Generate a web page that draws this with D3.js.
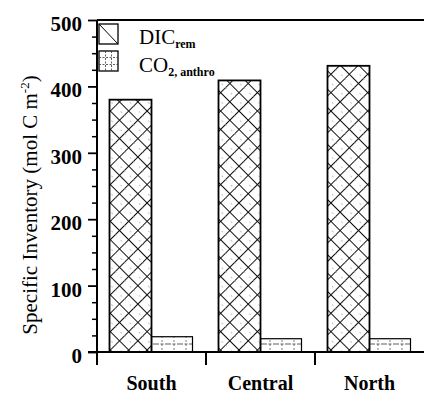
<!DOCTYPE html>
<html>
<head>
<meta charset="utf-8">
<script src="https://cdn.jsdelivr.net/npm/d3@7"></script>
<style>
  body { margin: 0; background: #fff; }
  svg { display: block; }
  text { font-family: "Liberation Serif", "Times New Roman", serif; fill: #000; }
</style>
</head>
<body>
<div id="chart"></div>
<script>
// values
const regions = ["South", "Central", "North"];
const dicRem = [380, 409, 431];
const co2Anthro = [23, 20, 20];
const majorTicks = [0, 100, 200, 300, 400, 500];
const minorTicks = [25, 50, 75, 125, 150, 175, 225, 250, 275, 325, 350, 375, 425, 450, 475];

const width = 424, height = 395;
const margin = { top: 20, right: 0, bottom: 43, left: 97 };
const barW = 42;

const svg = d3.select("#chart").append("svg")
  .attr("width", width)
  .attr("height", height);

const defs = svg.append("defs");

// cross hatch for DIC_rem, with a faint dashed line in between like the scan
const hs = 13;
const dicPat = defs.append("pattern")
  .attr("id", "dicHatch")
  .attr("patternUnits", "userSpaceOnUse")
  .attr("width", hs).attr("height", hs)
  .attr("patternTransform", "rotate(45)");
dicPat.append("line").attr("x1", 0).attr("y1", 0.5).attr("x2", hs).attr("y2", 0.5)
  .attr("stroke", "#111").attr("stroke-width", 1);
dicPat.append("line").attr("x1", 0.5).attr("y1", 0).attr("x2", 0.5).attr("y2", hs)
  .attr("stroke", "#111").attr("stroke-width", 1);
dicPat.append("line").attr("x1", 0).attr("y1", hs / 2).attr("x2", hs).attr("y2", hs / 2)
  .attr("stroke", "#999").attr("stroke-width", 0.6).attr("stroke-dasharray", "2,6");

// dashed grid for CO2_anthro
const co2Pat = defs.append("pattern")
  .attr("id", "co2Hatch")
  .attr("patternUnits", "userSpaceOnUse")
  .attr("width", 12).attr("height", 8)
  .attr("y", 4);
co2Pat.append("line").attr("x1", 0).attr("y1", 4).attr("x2", 12).attr("y2", 4)
  .attr("stroke", "#333").attr("stroke-width", 0.8).attr("stroke-dasharray", "3,1.5");
co2Pat.append("line").attr("x1", 6).attr("y1", 0).attr("x2", 6).attr("y2", 8)
  .attr("stroke", "#444").attr("stroke-width", 0.7).attr("stroke-dasharray", "2,2");

const x = d3.scaleBand()
  .domain(regions)
  .range([margin.left, width - margin.right]);

const y = d3.scaleLinear()
  .domain([0, 500])
  .range([height - margin.bottom, margin.top]);

const mid = d => x(d) + x.bandwidth() / 2;

// bars
svg.append("g").selectAll("rect")
  .data(regions)
  .join("rect")
  .attr("x", d => mid(d) - barW)
  .attr("y", (d, i) => y(dicRem[i]))
  .attr("width", barW)
  .attr("height", (d, i) => y(0) - y(dicRem[i]))
  .attr("fill", "url(#dicHatch)")
  .attr("stroke", "#000")
  .attr("stroke-width", 1.8);

svg.append("g").selectAll("rect")
  .data(regions)
  .join("rect")
  .attr("x", d => mid(d))
  .attr("y", (d, i) => y(co2Anthro[i]))
  .attr("width", barW - 1)
  .attr("height", (d, i) => y(0) - y(co2Anthro[i]))
  .attr("fill", "url(#co2Hatch)")
  .attr("stroke", "#000")
  .attr("stroke-width", 1.2);

// y axis: minor then major ticks
svg.append("g")
  .attr("transform", "translate(" + margin.left + ",0)")
  .call(d3.axisLeft(y).tickValues(minorTicks).tickSize(5).tickFormat(""))
  .call(g => g.select(".domain").remove())
  .call(g => g.selectAll("line").attr("stroke-width", 1.5));

svg.append("g")
  .attr("transform", "translate(" + margin.left + ",0)")
  .call(d3.axisLeft(y).tickValues(majorTicks).tickSize(9).tickPadding(6))
  .call(g => g.select(".domain").remove())
  .call(g => g.selectAll("line").attr("stroke-width", 1.8))
  .call(g => g.selectAll("text")
    .attr("dy", "0.5em")
    .style("font-family", "'Liberation Serif', serif")
    .style("font-size", "21px")
    .style("font-weight", "bold"));

// frame lines
svg.append("line")
  .attr("x1", margin.left).attr("x2", margin.left)
  .attr("y1", margin.top).attr("y2", y(0) + 13)
  .attr("stroke", "#000").attr("stroke-width", 2);
svg.append("line")
  .attr("x1", margin.left - 9).attr("x2", width)
  .attr("y1", y(0)).attr("y2", y(0))
  .attr("stroke", "#000").attr("stroke-width", 2);
svg.append("line")
  .attr("x1", margin.left).attr("x2", width)
  .attr("y1", y(500)).attr("y2", y(500))
  .attr("stroke", "#000").attr("stroke-width", 2);

// ticks between categories
svg.append("g").selectAll("line")
  .data(regions.slice(1))
  .join("line")
  .attr("x1", d => x(d)).attr("x2", d => x(d))
  .attr("y1", y(0)).attr("y2", y(0) + 13)
  .attr("stroke", "#000").attr("stroke-width", 2);

// category labels
svg.append("g").selectAll("text")
  .data(regions)
  .join("text")
  .attr("x", d => mid(d))
  .attr("y", 390)
  .attr("text-anchor", "middle")
  .style("font-size", "20px")
  .style("font-weight", "bold")
  .text(d => d);

// y axis title
const yt = svg.append("text")
  .attr("transform", "translate(37,205) rotate(-90)")
  .attr("text-anchor", "middle")
  .style("font-size", "21px");
yt.append("tspan").text("Specific Inventory (mol C m");
yt.append("tspan").attr("dy", -8).style("font-size", "13px").text("-2");
yt.append("tspan").attr("dy", 8).text(")");

// legend
const leg = svg.append("g");
leg.append("rect").attr("x", 99).attr("y", 24).attr("width", 19).attr("height", 20)
  .attr("fill", "#fff").attr("stroke", "#000").attr("stroke-width", 1.3);
leg.append("line").attr("x1", 99).attr("y1", 24).attr("x2", 118).attr("y2", 44)
  .attr("stroke", "#000").attr("stroke-width", 1);
leg.append("rect").attr("x", 99).attr("y", 51).attr("width", 19).attr("height", 20)
  .attr("fill", "#fff").attr("stroke", "#000").attr("stroke-width", 1.3);
[105.5, 111.5].forEach(v => {
  leg.append("line").attr("x1", v).attr("x2", v).attr("y1", 51).attr("y2", 71)
    .attr("stroke", "#333").attr("stroke-width", 0.8).attr("stroke-dasharray", "2,1.5");
});
[57.5, 64.5].forEach(v => {
  leg.append("line").attr("x1", 99).attr("x2", 118).attr("y1", v).attr("y2", v)
    .attr("stroke", "#333").attr("stroke-width", 0.8).attr("stroke-dasharray", "2,1.5");
});

const t1 = leg.append("text").attr("x", 139).attr("y", 44).style("font-size", "21px");
t1.append("tspan").text("DIC");
t1.append("tspan").attr("dy", 4).style("font-size", "12px").style("font-weight", "bold").text("rem");

const t2 = leg.append("text").attr("x", 139).attr("y", 72).style("font-size", "21px");
t2.append("tspan").text("CO");
t2.append("tspan").attr("dy", 4).style("font-size", "12px").style("font-weight", "bold").text("2, anthro");
</script>
</body>
</html>
